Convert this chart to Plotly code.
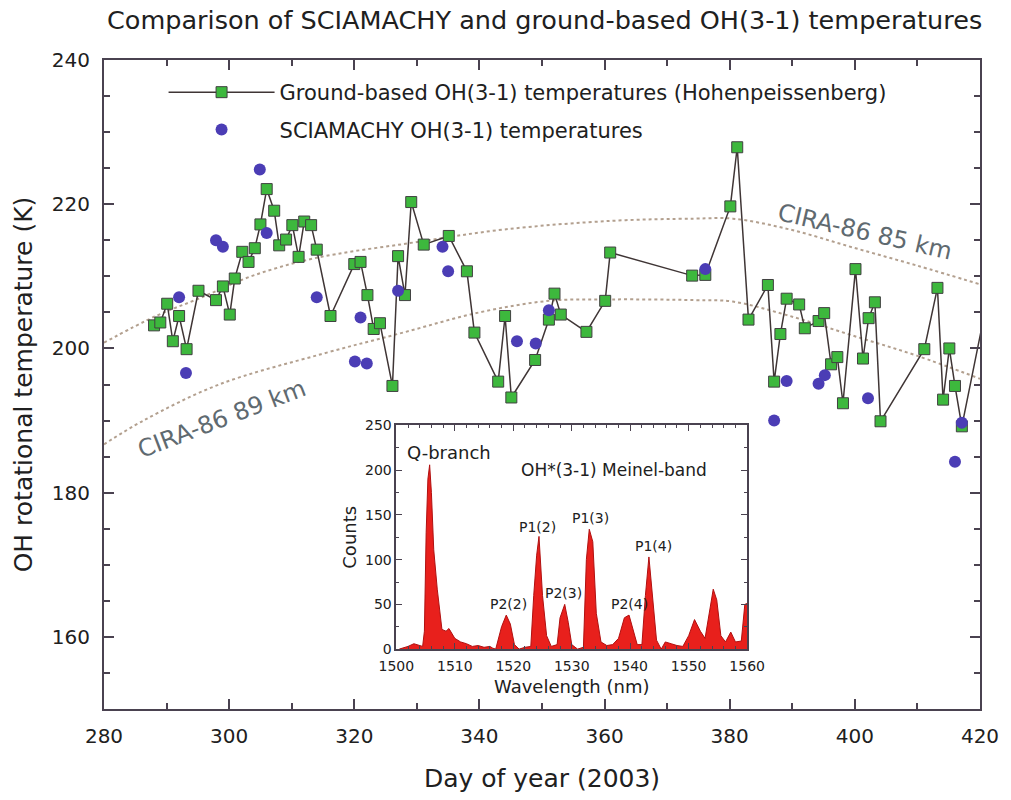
import plotly.graph_objects as go

# Ground-based OH(3-1) temperatures (Hohenpeissenberg)
gb_day = [288.0, 289.0, 290.1, 291.0, 292.0, 293.2, 295.1, 297.9, 299.0, 300.1,
          300.9, 302.1, 303.1, 304.1, 305.0, 306.0, 307.2, 308.0, 309.1, 310.1,
          311.1, 312.0, 313.1, 314.0, 316.2, 320.0, 321.0, 322.1, 323.1, 324.1,
          326.1, 327.0, 328.1, 329.1, 331.1, 335.1, 338.0, 339.2, 343.0, 344.1,
          345.1, 348.9, 351.1, 352.0, 353.0, 357.1, 360.1, 360.9, 374.0, 376.1,
          380.1, 381.2, 383.0, 386.1, 387.1, 388.1, 389.1, 391.1, 392.0, 394.2,
          395.1, 396.2, 397.2, 398.1, 400.1, 401.3, 402.2, 403.2, 404.1, 411.1,
          413.2, 414.1, 415.1, 416.0, 417.1, 421.0]
gb_temp = [203.2, 203.6, 206.2, 201.0, 204.5, 199.9, 208.0, 206.7, 208.6, 204.7,
           209.7, 213.4, 212.0, 213.9, 217.2, 222.1, 219.1, 214.3, 215.1, 217.1,
           212.7, 217.6, 217.1, 213.7, 204.5, 211.7, 212.0, 207.4, 202.7, 203.5,
           194.8, 212.8, 207.4, 220.3, 214.4, 215.6, 210.7, 202.2, 195.4, 204.5,
           193.2, 198.4, 204.0, 207.6, 204.7, 202.3, 206.6, 213.3, 210.1, 210.2,
           219.7, 227.9, 204.0, 208.8, 195.4, 202.0, 206.9, 206.1, 202.8, 203.8,
           204.9, 197.8, 198.8, 192.4, 211.0, 198.6, 204.2, 206.4, 189.9, 199.9,
           208.4, 192.9, 200.0, 194.8, 189.2, 206.0]

# SCIAMACHY OH(3-1) temperatures
sc_day = [292.0, 293.1, 297.9, 299.0, 304.9, 306.0, 314.0, 320.1, 321.0, 322.0,
          327.0, 334.1, 335.0, 346.0, 349.0, 351.1, 376.1, 387.1, 389.1, 394.2,
          395.2, 402.1, 416.0, 417.1]
sc_temp = [207.1, 196.6, 215.0, 214.1, 224.8, 216.0, 207.1, 198.2, 204.3, 197.9,
           208.0, 214.1, 210.7, 201.0, 200.7, 205.3, 211.0, 190.0, 195.5, 195.1,
           196.3, 193.1, 184.3, 189.7]

# CIRA-86 climatology curves
cira85_day = [280, 288.3, 295.4, 303.5, 313.6, 328.8, 344.0, 361.2, 374.4, 380.5, 389.6, 399.7, 409.9, 420]
cira85_temp = [200.8, 204.5, 207.0, 210.0, 212.5, 214.6, 216.5, 217.7, 218.0, 218.0, 216.5, 214.0, 211.5, 208.9]
cira89_day = [280, 286.3, 298.4, 314.7, 327.8, 340.0, 351.1, 361.2, 374.4, 380.5, 389.6, 400.7, 409.9, 420]
cira89_temp = [186.7, 190.0, 195.0, 199.2, 202.2, 205.0, 206.6, 206.8, 206.7, 206.5, 204.5, 201.5, 199.0, 195.8]

# Inset spectrum: OH*(3-1) Meinel band
wl = [1500.5, 1502, 1503, 1504, 1504.5, 1504.8, 1505.1, 1505.4, 1505.7, 1506.0,
      1506.4, 1507.0, 1507.8, 1508.5, 1509, 1510, 1511, 1512, 1513, 1514,
      1515, 1516, 1516.5, 1517, 1518, 1518.8, 1519.5, 1520.2, 1521, 1522,
      1523, 1523.5, 1524, 1524.4, 1525, 1525.7, 1526.5, 1527.5, 1528, 1528.8,
      1529.4, 1530, 1531, 1532, 1532.5, 1533, 1533.6, 1534.2, 1535, 1536,
      1537, 1538, 1539, 1539.8, 1540.5, 1541.2, 1542, 1542.6, 1543.2, 1543.8,
      1544.5, 1545.3, 1546, 1547, 1548, 1549, 1550, 1551, 1552, 1552.8,
      1553.5, 1554.2, 1554.8, 1555.5, 1556.3, 1557.2, 1558, 1559, 1559.6, 1560]
counts = [0, 3, 6, 4, 3, 20, 130, 190, 206, 175,
          111, 67, 22, 20, 23, 12, 8, 6, 3, 4,
          2, 3, 1, 0, 25, 38, 28, 5, 0, 2,
          3, 60, 105, 126, 60, 15, 3, 5, 35, 50,
          30, 5, 0, 2, 100, 134, 120, 40, 8, 4,
          5, 12, 35, 38, 20, 5, 5, 60, 103, 60,
          10, 0, 8, 6, 4, 3, 15, 33, 20, 12,
          40, 67, 55, 15, 8, 19, 8, 9, 50, 51]

peak_labels = ["Q-branch", "P2(2)", "P1(2)", "P2(3)", "P1(3)", "P2(4)", "P1(4)"]
peak_wl = [1509.0, 1519.2, 1524.2, 1528.6, 1533.2, 1539.8, 1543.9]
peak_y = [220, 50, 136, 63, 147, 50, 115]

FONT = "DejaVu Sans"
AX = "#4a4250"

fig = go.Figure()

fig.add_trace(go.Scatter(x=cira85_day, y=cira85_temp, mode="lines", line_shape="spline",
                         line=dict(color="#b3a08f", width=2, dash="dot"), showlegend=False,
                         hoverinfo="skip"))
fig.add_trace(go.Scatter(x=cira89_day, y=cira89_temp, mode="lines", line_shape="spline",
                         line=dict(color="#b3a08f", width=2, dash="dot"), showlegend=False,
                         hoverinfo="skip"))

fig.add_trace(go.Scatter(x=gb_day, y=gb_temp, mode="lines+markers",
                         name="Ground-based OH(3-1) temperatures (Hohenpeissenberg)",
                         legendgroup="a",
                         line=dict(color="#3f3535", width=1.5),
                         marker=dict(symbol="square", size=11, color="#3db83d",
                                     line=dict(color="#404040", width=1))))
fig.add_trace(go.Scatter(x=sc_day, y=sc_temp, mode="markers",
                         name="SCIAMACHY OH(3-1) temperatures",
                         legendgroup="b",
                         marker=dict(symbol="circle", size=12, color="#4b3db5")))

# inset
fig.add_trace(go.Scatter(x=wl, y=counts, mode="lines", fill="tozeroy",
                         fillcolor="#e8201c", line=dict(color="#b01010", width=1),
                         xaxis="x2", yaxis="y2", showlegend=False))

annotations = [
    dict(x=401.6, y=216.1, text="CIRA-86 85 km", showarrow=False, textangle=13,
         font=dict(family=FONT, size=24, color="#5f6a70")),
    dict(x=298.8, y=190.2, text="CIRA-86 89 km", showarrow=False, textangle=-21,
         font=dict(family=FONT, size=24, color="#5f6a70")),
    dict(x=1537.3, y=200, xref="x2", yref="y2", text="OH*(3-1) Meinel-band", showarrow=False,
         font=dict(family=FONT, size=17, color="#202020")),
]
for t, px_, py_ in zip(peak_labels, peak_wl, peak_y):
    annotations.append(dict(x=px_, y=py_, xref="x2", yref="y2", text=t, showarrow=False,
                            font=dict(family=FONT, size=18 if t == "Q-branch" else 14,
                                      color="#202020")))

fig.update_layout(
    width=1011, height=800,
    margin=dict(l=104, r=23, t=60, b=90),
    paper_bgcolor="white", plot_bgcolor="white",
    font=dict(family=FONT, color="#202020"),
    title=dict(text="Comparison of SCIAMACHY and ground-based OH(3-1) temperatures",
               x=0.503, xref="paper", y=0.975, yref="container", xanchor="center",
               yanchor="middle",
               font=dict(family=FONT, size=25.5, color="#202020")),
    xaxis=dict(range=[280, 420], tick0=280, dtick=20, ticks="inside", ticklen=10,
               tickwidth=2, tickcolor=AX, showline=True, linecolor=AX, linewidth=2,
               mirror="allticks", showgrid=False, zeroline=False, ticklabelstandoff=8,
               minor=dict(dtick=10, ticks="inside", ticklen=6, tickwidth=2, tickcolor=AX),
               tickfont=dict(size=20), title=dict(text="Day of year (2003)",
                                                   font=dict(size=25), standoff=22)),
    yaxis=dict(range=[150, 240], tick0=160, dtick=20, ticks="inside", ticklen=10,
               tickwidth=2, tickcolor=AX, showline=True, linecolor=AX, linewidth=2,
               mirror="allticks", showgrid=False, zeroline=False, ticklabelstandoff=8,
               minor=dict(dtick=5, ticks="inside", ticklen=6, tickwidth=2, tickcolor=AX),
               tickfont=dict(size=20),
               title=dict(text="OH rotational temperature (K)", font=dict(size=25),
                          standoff=12)),
    xaxis2=dict(domain=[0.3337, 0.7342], anchor="y2", range=[1500, 1560], dtick=10,
                ticks="inside", ticklen=6, tickcolor=AX, showline=True, linecolor=AX,
                linewidth=1.5, mirror="allticks", showgrid=False, zeroline=False,
                minor=dict(dtick=2, ticks="inside", ticklen=3, tickcolor=AX),
                tickfont=dict(size=14), ticklabelstandoff=3,
                title=dict(text="Wavelength (nm)", font=dict(size=18), standoff=8)),
    yaxis2=dict(domain=[0.0923, 0.4369], anchor="x2", range=[0, 250], dtick=50,
                ticks="inside", ticklen=6, tickcolor=AX, showline=True, linecolor=AX,
                linewidth=1.5, mirror="allticks", showgrid=False, zeroline=False,
                minor=dict(dtick=25, ticks="inside", ticklen=3, tickcolor=AX),
                tickfont=dict(size=14),
                title=dict(text="Counts", font=dict(size=18), standoff=4)),
    legend=dict(x=0.068, y=0.9815, xanchor="left", yanchor="top", bgcolor="rgba(0,0,0,0)",
                font=dict(size=21), tracegroupgap=7, itemwidth=106),
    annotations=annotations,
)

fig.write_html("out.html")
